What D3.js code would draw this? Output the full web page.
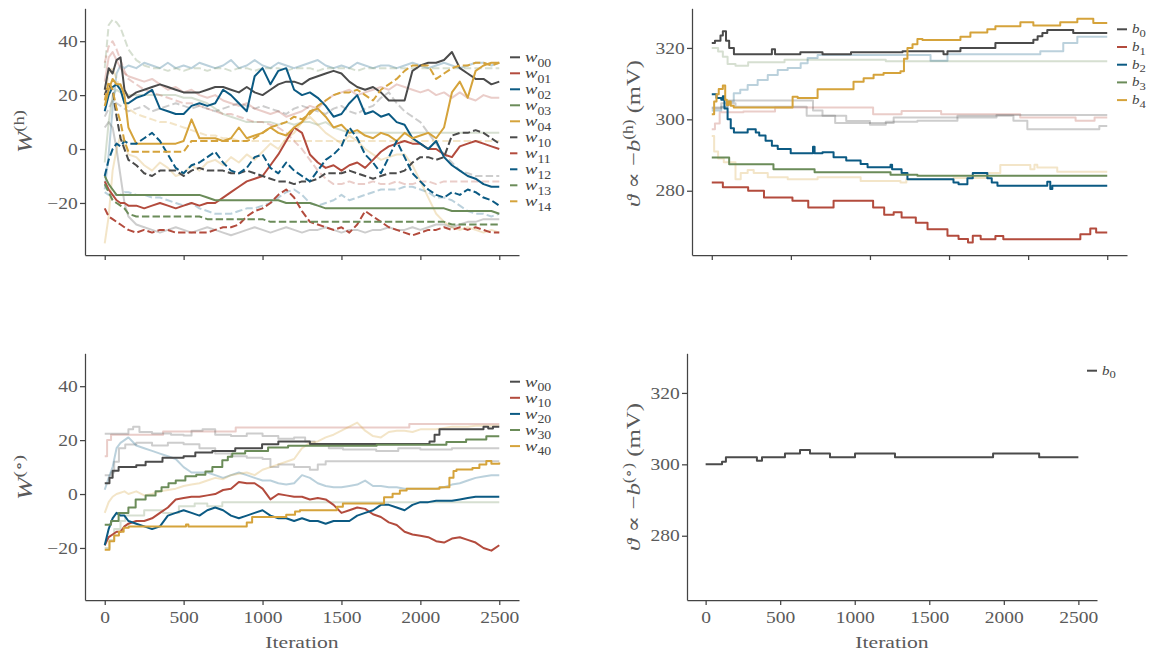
<!DOCTYPE html>
<html>
<head>
<meta charset="utf-8">
<script src="https://cdn.jsdelivr.net/npm/d3@7/dist/d3.min.js"></script>
<style>
  html, body { margin: 0; padding: 0; background: #fff; }
  svg { display: block; }
  svg text { font-family: "Liberation Serif", "DejaVu Serif", serif; fill: #5a5a5a; }
</style>
</head>
<body>
<svg id="fig" width="1155" height="657"></svg>
<script>
// ---------------------------------------------------------------------------
// Sampling grid (iterations) shared by the noisy weight traces
// ---------------------------------------------------------------------------
const iters = [0,25,50,75,100,125,150,
  200,250,300,350,400,450,500,550,600,650,700,750,800,850,900,950,1000,
  1050,1100,1150,1200,1250,1300,1350,1400,1450,1500,1550,1600,1650,1700,1750,1800,
  1850,1900,1950,2000,2050,2100,2150,2200,2250,2300,2350,2400,2450,2500];

const iterTicks = [0, 500, 1000, 1500, 2000, 2500];
const wTicks = [-20, 0, 20, 40];
const bTicks = [280, 300, 320];

// ---------------------------------------------------------------------------
// Hidden-layer weights W(h): inputs 0 and 1 (solid / dashed), hidden units 0..4
// ---------------------------------------------------------------------------
const w00 = [22,30,28,33,34,22,19,
  21,22,23,24,23,22,21,21,21,22,23,23,22,21,23,21,20,
  22,24,25,25,24,26,27,28,29,28,25,23,22,23,21,18,18,18,29,31,32,32,33,36,30,28,26,26,24,25];
const w01 = [-12,-15,-17,-19,-20,-20,-21,
  -21,-22,-21,-20,-21,-22,-21,-20,-21,-20,-20,-18,-16,-14,-12,-11,-10,
  -6,-2,3,8,6,-2,-5,-7,-6,-8,-6,-5,-7,-4,-1,1,2,3,2,2,0,0,-2,-3,1,2,3,2,1,0];
const w02 = [14,20,23,24,22,17,17,
  19,20,22,15,14,13,13,16,17,16,17,22,20,17,14,27,30,
  24,29,30,22,20,21,19,16,12,13,17,20,13,14,12,13,10,9,4,2,0,3,-3,-6,-8,-10,-11,-13,-14,-14];
const w03 = [-10,-13,-15,-17,-17,-17,-17,
  -17,-17,-17,-17,-17,-17,-17,-17,-17,-18,-19,-19,-19,-19,-19,-19,-19,
  -19,-19,-20,-20,-20,-20,-21,-22,-22,-22,-22,-22,-22,-22,-22,-22,-22,-22,-22,-22,-22,-22,-22,-23,-23,-23,-23,-23,-23,-24];
const w04 = [16,22,26,24,24,20,8,
  2,2,2,2,2,2,3,11,4,4,4,3,4,8,4,5,6,
  8,6,5,8,10,14,15,12,8,9,6,7,5,4,6,5,3,6,4,5,6,4,8,21,25,19,29,31,32,32];
const w10 = [20,24,22,12,4,0,-4,
  -6,-9,-10,-8,-8,-8,-10,-8,-7,-8,-8,-8,-9,-9,-8,-9,-10,
  -11,-12,-12,-13,-12,-12,-11,-9,-9,-9,-8,-9,-10,-11,-10,-9,-9,-8,-5,-3,-3,-4,-3,5,6,6,7,6,4,2];
const w11 = [-22,-25,-26,-27,-28,-29,-30,
  -31,-30,-31,-30,-30,-31,-31,-31,-31,-31,-30,-29,-29,-28,-25,-23,-22,
  -20,-17,-15,-18,-23,-27,-28,-29,-30,-29,-31,-28,-23,-25,-27,-29,-30,-31,-32,-31,-30,-30,-29,-30,-29,-30,-29,-30,-31,-31];
const w12 = [-10,-4,0,2,1,3,2,
  2,4,6,3,-2,-7,-9,-6,-5,-3,-1,-5,-8,-9,-7,-3,-2,
  -7,-9,-5,-8,-10,-12,-8,-4,-2,1,8,4,-2,-5,-9,-3,3,-3,-9,-12,-15,-17,-18,-16,-17,-15,-16,-18,-19,-21];
const w13 = [-13,-16,-19,-20,-21,-22,-24,
  -25,-25,-25,-25,-25,-25,-25,-25,-25,-26,-26,-26,-26,-26,-26,-26,-26,
  -27,-27,-27,-27,-27,-27,-27,-27,-27,-27,-27,-27,-27,-27,-27,-27,-27,-27,-27,-27,-27,-27,-27,-28,-28,-28,-28,-28,-28,-28];
const w14 = [18,25,22,15,10,3,-1,
  -1,-1,-1,-1,-1,-1,-1,3,3,3,3,3,3,3,3,4,6,
  8,9,10,12,11,13,16,18,20,21,21,22,20,18,22,24,26,29,31,31,31,26,28,30,31,31,32,32,31,32];

// Reference run (drawn faded behind the traces above)
const refW0blue   = [-15,-2,15,28,31,30,31,
  30,32,31,30,32,30,31,30,32,31,30,31,33,30,31,33,31,
  30,32,31,30,31,32,33,31,30,31,30,32,31,30,31,31,30,31,32,31,30,31,32,31,30,31,32,32,31,32];
const refW1blue   = [-16,-17,-17,-17,-17,-16,-16,
  -17,-17,-18,-18,-19,-20,-21,-20,-22,-23,-24,-24,-24,-23,-22,-22,-21,
  -20,-18,-16,-15,-17,-20,-21,-20,-19,-17,-19,-18,-17,-16,-15,-15,-15,-14,-14,-15,-16,-18,-18,-19,-21,-23,-24,-24,-25,-24];
const refW0gray   = [8,10,8,0,-10,-20,-25,
  -28,-29,-30,-31,-30,-29,-30,-31,-30,-29,-30,-31,-32,-31,-30,-29,-30,
  -31,-30,-29,-30,-31,-30,-30,-29,-30,-31,-30,-30,-31,-30,-30,-29,-30,-30,-29,-30,-29,-28,-28,-29,-28,-27,-27,-26,-26,-26];
const refW1gray   = [12,15,18,17,16,15,14,
  15,16,14,15,16,17,16,15,16,15,14,15,16,17,16,15,16,
  15,14,13,15,16,15,14,13,15,16,14,13,15,16,19,21,17,14,12,10,6,2,-2,-5,-8,-9,-10,-10,-10,-10];
const refW0green  = [-5,10,20,22,21,21,20,
  20,20,20,20,20,20,19,19,18,17,15,13,12,11,10,10,10,
  10,9,10,9,10,10,9,10,8,7,6,6,6,6,6,6,6,6,6,6,6,6,6,6,6,6,6,6,6,6];
const refW1green  = [30,46,48,47,45,41,37,
  33,31,30,30,29,30,29,30,30,29,30,30,29,30,30,29,30,
  30,30,29,30,30,30,29,30,30,30,30,29,30,30,30,30,30,30,30,30,30,30,30,30,30,30,30,30,30,30];
const refW0red    = [25,34,36,33,30,28,27,
  26,25,26,24,22,23,21,22,20,19,20,18,17,16,17,15,14,
  13,14,12,13,14,16,15,18,20,21,22,20,21,22,23,22,24,23,22,21,22,20,21,19,21,19,18,20,19,19];
const refW1red    = [32,38,40,37,33,29,26,
  24,22,21,20,19,18,17,17,16,15,14,13,13,12,11,10,10,
  9,8,6,3,0,-4,-8,-11,-13,-13,-12,-13,-13,-12,-13,-13,-12,-13,-13,-12,-12,-13,-12,-12,-12,-12,-12,-12,-12,-12];
const refW0yellow = [-35,-25,-8,0,5,2,-2,
  -3,-6,-8,-5,-7,-10,-9,-6,-8,-5,-4,-6,-3,-5,-2,-4,-1,
  2,0,4,6,10,12,9,6,4,2,5,3,0,-2,-4,-3,-2,-2,-6,-12,-18,-24,-27,-29,-30,-29,-30,-31,-30,-31];
const refW1yellow = [20,28,30,26,22,18,15,
  13,12,11,10,10,9,8,7,6,5,5,4,4,3,3,3,3,
  3,3,3,3,3,3,3,3,3,3,3,3,3,3,3,3,3,3,3,3,3,3,3,3,3,3,3,3,3,3];

// ---------------------------------------------------------------------------
// Hidden biases b(h): [iteration, mV] change points (step traces)
// ---------------------------------------------------------------------------
const b0h = [[0,321.4],[20,322],[55,323.5],[70,324.7],[90,322],[110,320],[140,318.2],[380,319.6],[400,318.2],[560,318.8],[700,318.2],[880,318.8],[1206,319.1],[1465,318.2],[1490,319.1],[1572,320],[1793,321.4],[2033,322.3],[2060,323.3],[2090,324.2],[2121,325],[2285,324.2],[2500,324.2]];
const b1h = [[0,282.3],[70,281],[230,280],[330,278.1],[510,277.2],[610,275.3],[770,277.2],[1020,275.3],[1090,273.3],[1150,274],[1200,272.5],[1290,271],[1364,269.2],[1490,267.4],[1560,266.5],[1620,265.5],[1650,267.4],[1700,266.4],[1793,267.3],[1843,266.4],[2330,267.8],[2393,269.4],[2430,268.3],[2500,268.3]];
const b2h = [[0,307],[30,306],[60,305.5],[70,306.5],[80,303],[100,300],[120,297.5],[140,296.3],[227,297.2],[278,296.3],[300,295.5],[340,294],[380,292.6],[417,291.7],[499,290.5],[640,292.3],[650,290.5],[700,290.8],[770,289.4],[850,288.5],[941,287.5],[985,286.6],[1130,287.3],[1140,286],[1200,285],[1237,283.2],[1528,282.3],[1560,281.8],[1616,283.5],[1650,285],[1700,285],[1742,283.5],[1770,282.3],[1806,281.4],[2121,282.5],[2140,280.5],[2153,281.4],[2500,281.4]];
const b3h = [[0,289.3],[70,289.3],[110,287.4],[390,286],[650,285.2],[1130,284.5],[1300,284.2],[2500,284.2]];
const b4h = [[0,301.4],[15,305],[30,307],[44,308.5],[70,309.5],[85,305.5],[95,304],[107,305],[120,303.8],[139,303.3],[511,306.3],[543,306],[669,308.4],[896,310.5],[960,311.5],[1023,312.5],[1086,313],[1193,313.5],[1215,317],[1237,320],[1269,321],[1300,322.5],[1332,322.2],[1572,323.1],[1635,324.3],[1742,325.2],[1793,326.1],[1951,327.2],[2033,326.3],[2203,327.2],[2311,328.2],[2412,327],[2500,327]];

const refBblue   = [[0,302.5],[60,303.5],[100,305],[139,307.3],[180,308.3],[227,309.6],[290,311],[354,312.4],[417,313.8],[480,314.4],[562,315.7],[606,317.2],[669,318],[1383,316.4],[1490,318.2],[2077,319.1],[2222,321.4],[2311,323.1],[2500,323.1]];
const refBgreen  = [[0,320],[40,319],[70,317.5],[100,315.5],[150,315],[230,316],[460,316.7],[1100,316.3],[2500,316.3]];
const refBred    = [[0,297.2],[20,298.8],[50,302],[200,302.2],[400,303.3],[1020,301.4],[1200,302.3],[1450,301.4],[1950,300.5],[2300,299.6],[2420,300.5],[2500,300.5]];
const refBgrayA  = [[0,303.3],[100,305.3],[640,302.5],[700,301],[850,299.5],[1000,298.5],[1100,299.3],[1300,299.6],[1553,301],[1907,299.6],[1995,297.2],[2450,298.1],[2500,298.1]];
const refBgrayB  = [[0,303],[60,304.5],[150,303.5],[400,303.5],[600,301],[780,299],[1000,299],[1150,300.5],[1800,301.2],[2500,301.2]];
const refByellow = [[0,295.3],[15,291],[40,289],[76,288],[130,288],[150,283.2],[183,285],[227,285.8],[265,285],[354,283.8],[480,283.2],[669,283.8],[941,282.7],[1193,282.3],[1230,283.2],[1528,283.6],[1742,285],[1824,287.2],[2014,286],[2040,287.3],[2058,286.5],[2184,285.3],[2500,285.3]];

// ---------------------------------------------------------------------------
// Output weights W(o)
// ---------------------------------------------------------------------------
const o10 = [-19,-16,-15,-14,-14,-12,-11,
  -10,-10,-9,-7,-5,-2,-1.5,-1,-1,-0.5,0,1.5,2,4.5,4,4,2,
  -2,0,-0.5,-1,-1,-2,-1.5,-2,-4,-7,-6,-5,-5.5,-7.5,-8.5,-10.5,-11.5,-14,-15,-15.5,-16,-17.5,-18,-16.5,-16,-17,-18,-20,-21,-19];
const o20 = [-19,-13,-9,-7,-8,-8,-10,
  -11,-12,-13,-12,-8,-7,-6,-7,-8,-6,-5,-6,-8,-9,-8,-7,-6,
  -8,-9,-9,-10,-9,-10,-10,-11,-10,-10,-10,-8,-7,-6,-4,-4,-5,-6,-4,-3,-3,-2.5,-2.5,-2.5,-2,-1.5,-1,-1,-1,-1];
const o00 = [[0,4],[30,6],[50,8.6],[88,10],[200,10.7],[259,12],[366,13.5],[500,14],[574,15.4],[682,16],[827,17],[997,18.5],[1100,19.5],[1300,18.6],[2058,19.5],[2090,22],[2121,24],[2374,24],[2400,25],[2430,24.3],[2460,25],[2500,25]];
const o30 = [[0,-11.4],[40,-10],[88,-7],[150,-5],[196,-2],[259,-0.5],[322,1],[360,2.5],[404,4],[450,5],[511,6.6],[580,7.2],[638,8.4],[682,10],[745,12.5],[780,13.8],[808,15],[890,16],[1035,17.3],[1162,17.9],[1723,18.3],[2165,19.3],[2290,20.2],[2418,21.4],[2500,21.4]];
const o40 = [[0,-20.7],[30,-17.5],[60,-15.4],[90,-14],[120,-12.5],[152,-12],[500,-12],[515,-11.3],[530,-12],[871,-12],[900,-10.6],[934,-8.5],[1150,-7.7],[1206,-6.5],[1237,-6],[1471,-4.7],[1509,-3.5],[1723,-3.5],[1770,-1.2],[1824,0.1],[1870,1.3],[1913,2],[2121,2.5],[2184,6],[2210,8.5],[2229,9.1],[2330,9.7],[2374,11],[2418,12.3],[2450,11.2],[2500,11.7]];

const refOblue   = [1.6,6,10,17,19,20,21,
  18,17,16,15,14,13,10,8,8,8,7,6,7,8,7,6,5,
  5,4,3.5,4,7,6,4,3,2.5,2.5,3,3.5,5,3,3,2.5,2.5,2,2,2,2,2,2.5,3.5,4,5,6,6.5,7,7];
const refOyellow = [-7,-3,-1,0,0.5,1,0,
  1,-0.5,0,1,1.5,2,3,3.5,4,5,6,5.5,7,7.5,8,7,9,
  10,11,12,13,17,19,19.5,21,22,23.5,25,26.5,23.5,21.5,21,23,23.5,23.5,23,24,24,24,24.5,25,25,25,25.3,25.3,25.3,25.3];
const refOred    = [[0,14],[15,20],[40,22],[370,23.2],[830,24.7],[1930,26],[2500,26]];
const refOgrayA  = [[0,22.4],[100,22.4],[150,24],[180,25],[220,23],[300,22.5],[420,22],[500,21.7],[550,23.5],[620,24],[700,22],[800,21.5],[900,22.5],[1000,21.5],[1100,20.5],[1200,21],[1270,19.5],[1330,18.5],[1420,17],[1510,16.5],[1720,16],[1860,17],[2000,16.5],[2200,17],[2500,17]];
const refOgrayB  = [[0,7],[40,8],[60,12],[90,17],[130,18.4],[200,19],[300,18],[400,19],[500,18.5],[600,17],[700,15],[800,14],[900,13.5],[1000,13],[1050,10],[1100,11],[1200,10],[1300,9],[1350,11],[1400,12.2],[2500,12.2]];
const refOgreen  = [[0,-20],[30,-17],[60,-13],[100,-10],[130,-8],[250,-6],[370,-7],[470,-4.5],[570,-3.5],[650,-4.5],[745,-3],[2500,-3]];

// Output bias b(o)
const b0o = [[0,300],[110,300.7],[136,302],[344,301],[378,302],[532,303],[633,304],[700,303],[834,302],[1002,303],[1270,302],[1928,303],[2237,302],[2500,302]];

// ---------------------------------------------------------------------------
// Styling and layout
// ---------------------------------------------------------------------------
const COL = { gray: "#4b4b4b", red: "#b34b3d", blue: "#0b5a83", green: "#6b8c59", yellow: "#d5a33b" };
const FADED = 0.28;
const AXIS = "#444";
const DASH = "7.4 3.2";

const svg = d3.select("#fig");
const xDomain = [-125, 2625];
const wDomain = [-39.3, 52.2];
const bDomain = [262.0, 331.1];

const boxes = {
  tl: { l: 85,  r: 519,  t: 8.3,   b: 255 },
  bl: { l: 85,  r: 519,  t: 353.3, b: 600 },
  tr: { l: 692, r: 1127, t: 8.3,   b: 255 },
  br: { l: 687, r: 1097, t: 353.3, b: 600 }
};

function panel(box, yDomain, yTicks, xLabels) {
  const x = d3.scaleLinear().domain(xDomain).range([box.l, box.r]);
  const y = d3.scaleLinear().domain(yDomain).range([box.b, box.t]);
  const g = svg.append("g");
  const plot = g.append("g").attr("fill", "none");
  const gx = g.append("g").attr("transform", `translate(0,${box.b})`)
    .call(d3.axisBottom(x).tickValues(iterTicks).tickSize(5).tickSizeOuter(0).tickPadding(6.4)
      .tickFormat(xLabels ? d3.format("d") : () => ""));
  const gy = g.append("g").attr("transform", `translate(${box.l},0)`)
    .call(d3.axisLeft(y).tickValues(yTicks).tickSize(5).tickSizeOuter(0).tickPadding(1));
  for (const a of [gx, gy]) {
    a.select(".domain").attr("stroke", AXIS).attr("stroke-width", 1.25);
    a.selectAll(".tick line").attr("stroke", AXIS).attr("stroke-width", 1.25);
    a.selectAll(".tick text").attr("font-size", 16).attr("transform", "scale(1.22,1)");
  }
  return { x, y, plot };
}

const gridGen = p => d3.line()
  .defined((d, i) => i < iters.length)
  .x((d, i) => p.x(iters[i])).y(d => p.y(d));
const stepGen = p => d3.line().curve(d3.curveStepAfter)
  .x(d => p.x(d[0])).y(d => p.y(d[1]));

function trace(p, gen, data, color, opts = {}) {
  p.plot.append("path").datum(data)
    .attr("d", gen(p))
    .attr("stroke", COL[color])
    .attr("stroke-width", 2)
    .attr("stroke-opacity", opts.faded ? FADED : 1)
    .attr("stroke-dasharray", opts.dashed ? DASH : null)
    .attr("stroke-linejoin", "round");
}

function legend(items, o) {
  items.forEach((it, i) => {
    const yy = o.y0 + i * o.dy;
    svg.append("line")
      .attr("x1", o.lx).attr("x2", o.lx + 10).attr("y1", yy).attr("y2", yy)
      .attr("stroke", COL[it.color]).attr("stroke-width", 2)
      .attr("stroke-dasharray", it.dashed ? DASH : null);
    const t = svg.append("text")
      .attr("transform", `translate(${o.lx + 15},${yy + o.symDy}) scale(1.2,1)`)
      .style("fill", "#444");
    t.append("tspan").attr("font-style", "italic").attr("font-size", o.symSize).text(it.sym);
    t.append("tspan").attr("font-size", o.subSize).attr("dy", o.subDy).text(it.sub);
  });
}

function yLabel(parts, baseX, cy, len) {
  const t = svg.append("text").attr("text-anchor", "middle");
  parts.forEach(pt => {
    const s = t.append("tspan").attr("font-size", pt.size || 17).text(pt.t);
    if (pt.it) s.attr("font-style", "italic");
    if (pt.dy) s.attr("dy", pt.dy);
  });
  const w = t.node().getBBox().width;
  t.attr("transform", `translate(${baseX},${cy}) rotate(-90) scale(${len / w},1.14)`);
}

function xLabel(cx, len) {
  const t = svg.append("text").attr("text-anchor", "middle").attr("font-size", 17).text("Iteration");
  const w = t.node().getBBox().width;
  t.attr("transform", `translate(${cx},648) scale(${len / w},1)`);
}

// ---------------------------------------------------------------------------
// Top left: hidden weights
// ---------------------------------------------------------------------------
const tl = panel(boxes.tl, wDomain, wTicks, false);
[[refW0blue,"blue",false],[refW1blue,"blue",true],[refW0gray,"gray",false],[refW1gray,"gray",true],
 [refW0green,"green",false],[refW1green,"green",true],[refW0red,"red",false],[refW1red,"red",true],
 [refW0yellow,"yellow",false],[refW1yellow,"yellow",true]]
  .forEach(([d, c, dashed]) => trace(tl, gridGen, d, c, { faded: true, dashed }));
const hiddenW = [
  { d: w00, color: "gray",   sub: "00", dashed: false },
  { d: w01, color: "red",    sub: "01", dashed: false },
  { d: w02, color: "blue",   sub: "02", dashed: false },
  { d: w03, color: "green",  sub: "03", dashed: false },
  { d: w04, color: "yellow", sub: "04", dashed: false },
  { d: w10, color: "gray",   sub: "10", dashed: true },
  { d: w11, color: "red",    sub: "11", dashed: true },
  { d: w12, color: "blue",   sub: "12", dashed: true },
  { d: w13, color: "green",  sub: "13", dashed: true },
  { d: w14, color: "yellow", sub: "14", dashed: true }
];
hiddenW.forEach(s => trace(tl, gridGen, s.d, s.color, { dashed: s.dashed }));
legend(hiddenW.map(s => ({ sym: "w", sub: s.sub, color: s.color, dashed: s.dashed })),
  { lx: 510, y0: 57.3, dy: 16, symDy: 5, subDy: 4.2, symSize: 15.5, subSize: 11.5 });
yLabel([{ t: "W", it: true, size: 18 }, { t: "(h)", size: 13, dy: -7 }], 32, 131.6, 43);

// ---------------------------------------------------------------------------
// Top right: hidden biases
// ---------------------------------------------------------------------------
const tr = panel(boxes.tr, bDomain, bTicks, false);
[[refBgreen,"green"],[refBblue,"blue"],[refBred,"red"],[refBgrayA,"gray"],[refBgrayB,"gray"],[refByellow,"yellow"]]
  .forEach(([d, c]) => trace(tr, stepGen, d, c, { faded: true }));
const hiddenB = [
  { d: b0h, color: "gray",   sub: "0" },
  { d: b1h, color: "red",    sub: "1" },
  { d: b2h, color: "blue",   sub: "2" },
  { d: b3h, color: "green",  sub: "3" },
  { d: b4h, color: "yellow", sub: "4" }
];
hiddenB.forEach(s => trace(tr, stepGen, s.d, s.color));
legend(hiddenB.map(s => ({ sym: "b", sub: s.sub, color: s.color })),
  { lx: 1117, y0: 29.3, dy: 17.7, symDy: 4, subDy: 3.6, symSize: 12.5, subSize: 10.5 });
yLabel([{ t: "ϑ", it: true }, { t: " ∝ −" }, { t: "b", it: true },
        { t: "(h)", size: 12, dy: -6 }, { t: " (mV)", dy: 6 }], 639.5, 133.5, 147);

// ---------------------------------------------------------------------------
// Bottom left: output weights
// ---------------------------------------------------------------------------
const bl = panel(boxes.bl, wDomain, wTicks, true);
[[refOred,"red"],[refOgrayA,"gray"],[refOgrayB,"gray"],[refOgreen,"green"]]
  .forEach(([d, c]) => trace(bl, stepGen, d, c, { faded: true }));
[[refOblue,"blue"],[refOyellow,"yellow"]]
  .forEach(([d, c]) => trace(bl, gridGen, d, c, { faded: true }));
const outW = [
  { d: o00, color: "gray",   sub: "00", step: true },
  { d: o10, color: "red",    sub: "10", step: false },
  { d: o20, color: "blue",   sub: "20", step: false },
  { d: o30, color: "green",  sub: "30", step: true },
  { d: o40, color: "yellow", sub: "40", step: true }
];
outW.forEach(s => trace(bl, s.step ? stepGen : gridGen, s.d, s.color));
legend(outW.map(s => ({ sym: "w", sub: s.sub, color: s.color })),
  { lx: 510, y0: 381.7, dy: 16.1, symDy: 5, subDy: 4.2, symSize: 15.5, subSize: 11.5 });
yLabel([{ t: "W", it: true, size: 18 }, { t: "(∘)", size: 13, dy: -7 }], 32, 477.5, 45);
xLabel(302, 74);

// ---------------------------------------------------------------------------
// Bottom right: output bias
// ---------------------------------------------------------------------------
const br = panel(boxes.br, bDomain, bTicks, true);
trace(br, stepGen, b0o, "gray");
legend([{ sym: "b", sub: "0", color: "gray" }],
  { lx: 1087, y0: 370.7, dy: 17.7, symDy: 4, subDy: 3.6, symSize: 12.5, subSize: 10.5 });
yLabel([{ t: "ϑ", it: true }, { t: " ∝ −" }, { t: "b", it: true },
        { t: "(∘)", size: 12, dy: -6 }, { t: " (mV)", dy: 6 }], 639.5, 477, 148);
xLabel(892, 74);
</script>
</body>
</html>
